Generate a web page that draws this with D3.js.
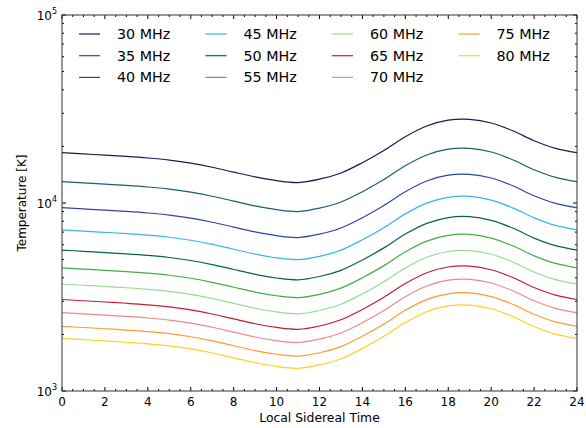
<!DOCTYPE html>
<html>
<head>
<meta charset="utf-8">
<script src="https://cdn.jsdelivr.net/npm/d3@7"></script>
<style>
  body { margin: 0; background: #fff; }
  text { font-family: "DejaVu Sans", sans-serif; fill: #000; }
</style>
</head>
<body>
<div id="chart"></div>
<script>
// hours of local sidereal time where the curves were read
var hours = [0, 1, 2, 3, 4, 5, 6, 7, 8, 9, 10, 11, 12, 13, 14, 15, 16, 17, 18, 19, 20, 21, 22, 23, 24];

var freqs = ["30 MHz", "35 MHz", "40 MHz", "45 MHz", "50 MHz", "55 MHz",
             "60 MHz", "65 MHz", "70 MHz", "75 MHz", "80 MHz"];

var t30 = [18520, 18240, 17960, 17690, 17350, 16910, 16300, 15500, 14590, 13760, 13150, 12850, 13390,
           14450, 16390, 19020, 22520, 25690, 27580, 27870, 26650, 24240, 21450, 19540, 18520];
var t35 = [12980, 12785, 12591, 12396, 12162, 11851, 11422, 10864, 10228, 9644, 9216, 9008, 9385,
           10124, 11487, 13330, 15784, 18003, 19327, 19535, 18678, 16991, 15031, 13694, 12980];
var t40 = [9440, 9298, 9157, 9015, 8845, 8619, 8307, 7901, 7439, 7014, 6702, 6551, 6825,
           7363, 8354, 9695, 11479, 13093, 14056, 14207, 13584, 12357, 10932, 9959, 9440];
var t45 = [7200, 7092, 6984, 6876, 6746, 6574, 6336, 6026, 5674, 5350, 5112, 4997, 5206,
           5616, 6372, 7394, 8755, 9986, 10721, 10836, 10361, 9425, 8338, 7596, 7200];
var t50 = [5620, 5536, 5451, 5367, 5266, 5131, 4946, 4704, 4429, 4176, 3990, 3900, 4063,
           4384, 4974, 5772, 6834, 7795, 8368, 8458, 8087, 7357, 6508, 5929, 5620];
var t55 = [4522, 4454, 4386, 4319, 4237, 4129, 3979, 3785, 3563, 3360, 3211, 3138, 3269,
           3527, 4002, 4644, 5499, 6272, 6733, 6806, 6507, 5919, 5236, 4771, 4522];
var t60 = [3708, 3652, 3597, 3541, 3474, 3385, 3263, 3104, 2922, 2755, 2633, 2573, 2681,
           2892, 3282, 3808, 4509, 5143, 5521, 5581, 5336, 4854, 4294, 3912, 3708];
var t65 = [3067, 3021, 2975, 2929, 2874, 2800, 2699, 2567, 2417, 2279, 2178, 2128, 2217,
           2392, 2714, 3150, 3729, 4254, 4567, 4616, 4413, 4015, 3552, 3236, 3067];
var t70 = [2609, 2570, 2531, 2492, 2445, 2382, 2296, 2184, 2056, 1938, 1852, 1811, 1886,
           2035, 2309, 2679, 3173, 3619, 3885, 3927, 3754, 3415, 3021, 2752, 2609];
var t75 = [2209, 2176, 2143, 2110, 2070, 2017, 1944, 1849, 1741, 1641, 1568, 1533, 1597,
           1723, 1955, 2269, 2686, 3064, 3289, 3325, 3179, 2892, 2558, 2330, 2209];
var t80 = [1903, 1874, 1846, 1817, 1783, 1737, 1675, 1593, 1500, 1414, 1351, 1321, 1376,
           1484, 1684, 1954, 2314, 2639, 2834, 2864, 2738, 2491, 2204, 2008, 1903];

var series = [t30, t35, t40, t45, t50, t55, t60, t65, t70, t75, t80];
var colors = ["#1a1a5a", "#1d5d6d", "#2f44a0", "#38b6e8", "#08663a", "#45ad45",
              "#98d898", "#c41e2c", "#f08888", "#ff9a35", "#ffd21c"];

var xTicks = [0, 2, 4, 6, 8, 10, 12, 14, 16, 18, 20, 22, 24];
var yTicks = [1e3, 1e4, 1e5];

var width = 586, height = 428;
var margin = { top: 15, right: 9, bottom: 37, left: 62 };

var svg = d3.select('#chart').append('svg')
  .attr('width', width)
  .attr('height', height);

var x = d3.scaleLinear().domain([0, 24]).range([margin.left, width - margin.right]);
var y = d3.scaleLog().domain([1e3, 1e5]).range([height - margin.bottom, margin.top]);

// curves
var line = d3.line()
  .x(function(d, i) { return x(hours[i]); })
  .y(function(d) { return y(d); })
  .curve(d3.curveCatmullRom.alpha(0.5));

svg.append('g').selectAll('path')
  .data(series)
  .enter()
  .append('path')
  .attr('d', line)
  .attr('fill', 'none')
  .attr('stroke', function(d, i) { return colors[i]; })
  .attr('stroke-width', 1.2);

// ticks (inside, on all four sides)
var x0 = margin.left, x1 = width - margin.right;
var y0 = height - margin.bottom, y1 = margin.top;
var ticks = svg.append('g').attr('stroke', '#000').attr('stroke-width', 1);

var xMinor = d3.range(0, 24.01, 0.5);
xMinor.forEach(function(v) {
  var len = (v % 2 === 0) ? 4 : 2;
  ticks.append('line').attr('x1', x(v)).attr('x2', x(v)).attr('y1', y0).attr('y2', y0 - len);
  ticks.append('line').attr('x1', x(v)).attr('x2', x(v)).attr('y1', y1).attr('y2', y1 + len);
});

var yMinor = [];
[1e3, 1e4].forEach(function(dec) {
  for (var k = 1; k <= 9; k++) yMinor.push(dec * k);
});
yMinor.push(1e5);
yMinor.forEach(function(v) {
  var major = yTicks.indexOf(v) !== -1;
  var len = major ? 4 : 2;
  ticks.append('line').attr('x1', x0).attr('x2', x0 + len).attr('y1', y(v)).attr('y2', y(v));
  ticks.append('line').attr('x1', x1).attr('x2', x1 - len).attr('y1', y(v)).attr('y2', y(v));
});

// frame
svg.append('rect')
  .attr('x', x0).attr('y', y1)
  .attr('width', x1 - x0).attr('height', y0 - y1)
  .attr('fill', 'none')
  .attr('stroke', '#333')
  .attr('stroke-width', 1);

// x tick labels
svg.append('g').selectAll('text')
  .data(xTicks)
  .enter()
  .append('text')
  .attr('x', function(d) { return x(d); })
  .attr('y', y0 + 15)
  .attr('text-anchor', 'middle')
  .attr('font-size', 12)
  .text(function(d) { return d; });

// y tick labels 10^n
var yl = svg.append('g').selectAll('text')
  .data(yTicks)
  .enter()
  .append('text')
  .attr('x', x0 - 5)
  .attr('y', function(d) { return y(d) + 5; })
  .attr('text-anchor', 'end')
  .attr('font-size', 12);
yl.append('tspan').text('10');
yl.append('tspan')
  .attr('dy', -6)
  .attr('font-size', 8)
  .text(function(d) { return Math.round(Math.log10(d)); });

// axis titles
svg.append('text')
  .attr('x', (x0 + x1) / 2)
  .attr('y', height - 6)
  .attr('text-anchor', 'middle')
  .attr('font-size', 12.4)
  .text('Local Sidereal Time');

svg.append('text')
  .attr('transform', 'translate(26,' + ((y0 + y1) / 2) + ') rotate(-90)')
  .attr('text-anchor', 'middle')
  .attr('font-size', 12)
  .text('Temperature [K]');

// legend: 4 columns x 3 rows
var legend = svg.append('g');
freqs.forEach(function(f, i) {
  var col = Math.floor(i / 3), row = i % 3;
  var lx = 79 + col * 126.5, ly = 34 + row * 21.7;
  legend.append('line')
    .attr('x1', lx).attr('x2', lx + 21)
    .attr('y1', ly).attr('y2', ly)
    .attr('stroke', colors[i])
    .attr('stroke-width', 1.2);
  legend.append('text')
    .attr('x', lx + 38)
    .attr('y', ly + 5)
    .attr('font-size', 14.3)
    .text(f);
});
</script>
</body>
</html>
